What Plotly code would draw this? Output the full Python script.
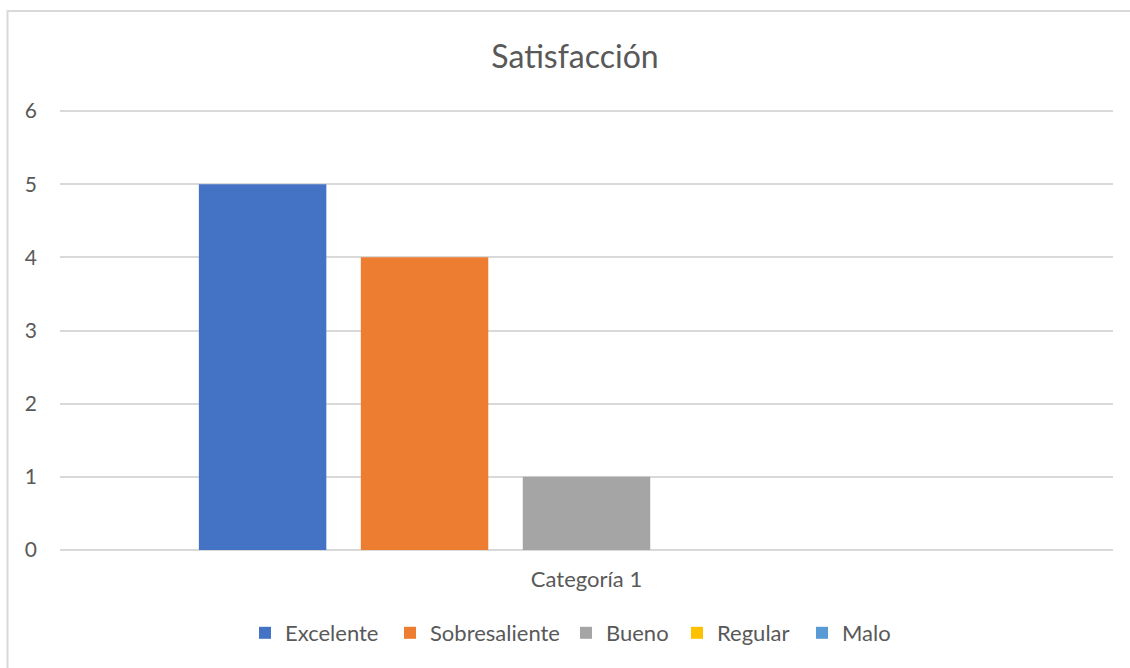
import plotly.graph_objects as go

categories = ["Categoría 1"]
series_names = ["Excelente", "Sobresaliente", "Bueno", "Regular", "Malo"]
series_values = [5, 4, 1, 0, 0]
series_colors = ["#4472C4", "#ED7D31", "#A5A5A5", "#FFC000", "#5B9BD5"]
y_ticks = [0, 1, 2, 3, 4, 5, 6]

# legend entry positions (pixel x of the marker centre), one small legend per series
legend_marker_px = [270, 415, 591, 702, 827]

FONT = "Lato"
TEXT = "#595959"

W, H = 1130, 668
L, R, T, B = 60, 17, 109, 118
pw, ph = W - L - R, H - T - B
# top of the axis slightly above 6 so that the gridline at 6 is drawn (sits at y=111 px)
Y_TOP = 6 * ph / (H - B - 111)


def px_x(p):
    return (p - L) / pw


def px_y(p):
    return (H - B - p) / ph


fig = go.Figure()
legend_layouts = {}
for i, (name, val, col) in enumerate(zip(series_names, series_values, series_colors)):
    lg = "legend" if i == 0 else f"legend{i + 1}"
    fig.add_trace(go.Bar(
        x=categories, y=[val], name=name, legend=lg,
        marker=dict(color=col, line=dict(width=0)),
    ))
    legend_layouts[lg] = dict(
        orientation="h", x=px_x(legend_marker_px[i] - 5 - 20), xanchor="left",
        y=px_y(633), yanchor="middle", bgcolor="rgba(0,0,0,0)",
        font=dict(family=FONT, size=22, color=TEXT),
    )

fig.update_layout(
    width=W, height=H,
    margin=dict(l=L, r=R, t=T, b=B),
    paper_bgcolor="white", plot_bgcolor="white",
    barmode="group", bargap=0.231, bargroupgap=0.213,
    font=dict(family=FONT, color=TEXT, size=20),
    title=dict(text="Satisfacción", x=575 / W, xanchor="center", xref="container",
               y=1 - 57 / H, yanchor="middle", yref="container",
               font=dict(family=FONT, size=32, color=TEXT)),
    showlegend=True,
    xaxis=dict(showgrid=False, showline=False, zeroline=False, ticks="",
               tickfont=dict(family=FONT, size=22, color=TEXT), ticklabelstandoff=14,
               fixedrange=True),
    yaxis=dict(range=[0, Y_TOP], tickvals=y_ticks, showgrid=True, gridcolor="#D9D9D9", gridwidth=1.5,
               zeroline=True, zerolinecolor="#D9D9D9", zerolinewidth=1.5, showline=False,
               ticks="", tickfont=dict(family=FONT, size=21, color=TEXT), ticklabelstandoff=22,
               fixedrange=True),
    shapes=[dict(type="rect", xref="paper", yref="paper",
                 x0=px_x(7.5), x1=px_x(1140), y0=px_y(680), y1=px_y(11),
                 line=dict(color="#D9D9D9", width=2), fillcolor="rgba(0,0,0,0)", layer="below")],
    **legend_layouts,
)

fig.write_html("out.html", config={"displayModeBar": False},
               post_script="document.body.style.margin='0';document.body.style.padding='0';document.body.style.overflow='hidden';")
